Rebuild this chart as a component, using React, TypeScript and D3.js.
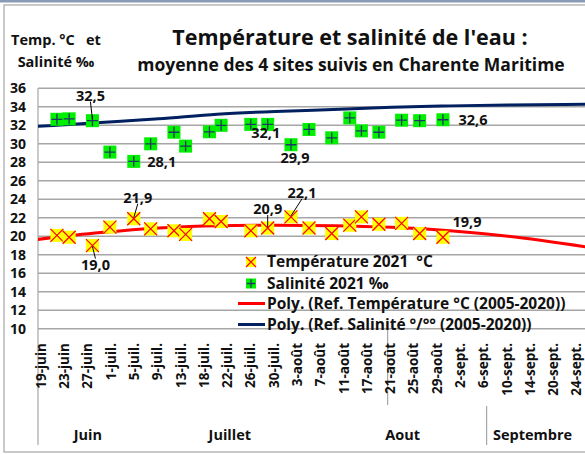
import React from "react";
import * as d3 from "d3";

// x axis: day offset from 19 June, one label every 4 positions
const tickLabels = [
  "19-juin", "23-juin", "27-juin", "1-juil.", "5-juil.", "9-juil.", "13-juil.",
  "18-juil.", "22-juil.", "26-juil.", "30-juil.", "3-août", "7-août", "11-août",
  "17-août", "21-août", "25-août", "29-août", "2-sept.", "6-sept.", "10-sept.",
  "14-sept.", "20-sept.", "24-sept.",
];
const months = ["Juin", "Juillet", "Aout", "Septembre"];
const monthCenters = [7.8, 32.2, 61.9, 84.2];

// sampling days 2021 (position on the axis)
const sampleDays = [
  2.5, 4.6, 8.6, 11.6, 15.7, 18.6, 22.6, 24.6, 28.7, 30.7, 35.8,
  38.7, 42.7, 45.8, 49.7, 52.8, 54.8, 57.8, 61.7, 64.8, 68.8,
];
const temp2021 = [
  20.1, 19.9, 19.0, 21.0, 21.9, 20.8, 20.6, 20.2, 21.9, 21.6, 20.6,
  20.9, 22.1, 20.9, 20.3, 21.2, 22.1, 21.3, 21.4, 20.3, 19.9,
];
const sal2021 = [
  32.65, 32.7, 32.5, 29.1, 28.1, 30.0, 31.25, 29.75, 31.3, 32.0, 32.1,
  32.1, 29.9, 31.55, 30.65, 32.8, 31.4, 31.25, 32.55, 32.5, 32.6,
];

// reference 2005-2020 polynomial trends
const refDays = [-1, 10, 20, 30, 40, 50, 60, 70, 80, 94];
const refTemp = [19.65, 20.4, 20.9, 21.15, 21.2, 21.15, 20.97, 20.6, 20.0, 18.8];
const refSal = [31.88, 32.3, 32.7, 33.2, 33.5, 33.7, 33.95, 34.1, 34.2, 34.28];

const yTicks = d3.range(10, 37, 2);

const W = 585;
const H = 454;
const plot = { left: 38, right: 585, top: 88.3, bottom: 328.8 };
const font = "'Open Sans', 'Noto Sans', sans-serif";

const x = d3.scaleLinear().domain([-0.75, 93.2]).range([plot.left, plot.right]);
const y = d3.scaleLinear().domain([10, 36]).range([plot.bottom, plot.top]);

const fmt = (v: number) => d3.format(".1f")(v).replace(".", ",");

// data labels: which point, offset of label, leader line
const salLabels = [
  { i: 2, dx: -2, dy: -25, leader: true },
  { i: 4, dx: 28, dy: 1, leader: false },
  { i: 11, dx: -2, dy: 9, leader: false },
  { i: 12, dx: 4, dy: 13, leader: false },
  { i: 20, dx: 30, dy: 0, leader: false },
];
const tempLabels = [
  { i: 2, dx: 3, dy: 19, leader: true },
  { i: 4, dx: 4, dy: -21, leader: true },
  { i: 11, dx: 0, dy: -19, leader: true },
  { i: 12, dx: 11, dy: -24, leader: true },
  { i: 20, dx: 24, dy: -15, leader: false },
];

const TempMarker = ({ cx, cy, s = 13 }: { cx: number; cy: number; s?: number }) => (
  <g>
    <rect x={cx - s / 2} y={cy - s / 2} width={s} height={s} fill="#FFFF00" />
    <path
      d={`M${cx - s / 2},${cy - s / 2}L${cx + s / 2},${cy + s / 2}M${cx + s / 2},${cy - s / 2}L${cx - s / 2},${cy + s / 2}`}
      stroke="#FF0000"
      strokeWidth={1.2}
    />
  </g>
);

const SalMarker = ({ cx, cy, s = 13 }: { cx: number; cy: number; s?: number }) => (
  <g>
    <rect x={cx - s / 2} y={cy - s / 2} width={s} height={s} fill="#00F000" />
    <path
      d={`M${cx - s * 0.42},${cy}L${cx + s * 0.42},${cy}M${cx},${cy - s * 0.42}L${cx},${cy + s * 0.42}`}
      stroke="#1F3864"
      strokeWidth={1.3}
    />
  </g>
);

export default function App() {
  const line = d3
    .line<number>()
    .x((_, i) => x(refDays[i]))
    .y((d) => y(d))
    .curve(d3.curveMonotoneX);

  const labelStyle = { fontFamily: font, fontWeight: 700, fontSize: 14.5, fill: "#111" };
  const axisStyle = { fontFamily: font, fontWeight: 700, fontSize: 14, fill: "#111" };

  return (
    <svg
      width={W}
      height={H}
      style={{ position: "absolute", left: 0, top: 0, background: "#fff" }}
    >
      <defs>
        <clipPath id="plotClip">
          <rect x={plot.left} y={plot.top - 10} width={plot.right - plot.left} height={plot.bottom - plot.top + 10} />
        </clipPath>
      </defs>
      <rect x={0} y={0} width={W} height={2.5} fill="#8A9BB5" />
      <rect x={4} y={5} width={W} height={H - 7} fill="none" stroke="#A6A6A6" strokeWidth={1.2} />

      {/* titles */}
      <text x={350} y={45} textAnchor="middle" style={{ fontFamily: font, fontWeight: 700, fontSize: 21.5, fill: "#111" }}>
        Température et salinité de l'eau :
      </text>
      <text x={351} y={71} textAnchor="middle" style={{ fontFamily: font, fontWeight: 700, fontSize: 17.5, fill: "#111" }}>
        moyenne des 4 sites suivis en Charente Maritime
      </text>
      <text x={11} y={45} style={{ fontFamily: font, fontWeight: 700, fontSize: 14.5, fill: "#111" }} xmlSpace="preserve">
        Temp. °C   et
      </text>
      <text x={56} y={67} textAnchor="middle" style={{ fontFamily: font, fontWeight: 700, fontSize: 14.5, fill: "#111" }}>
        Salinité ‰
      </text>

      {/* grid + y axis */}
      {yTicks.map((t) => (
        <g key={t}>
          <line x1={plot.left} x2={plot.right} y1={y(t)} y2={y(t)} stroke="#A6A6A6" strokeWidth={1.5} />
          <text x={26} y={y(t)} dy="0.35em" textAnchor="end" style={axisStyle}>
            {t}
          </text>
        </g>
      ))}
      <line x1={plot.left} x2={plot.left} y1={plot.top} y2={445} stroke="#A6A6A6" strokeWidth={1.2} />
      <line x1={x(59.3)} x2={x(59.3)} y1={330} y2={405} stroke="#A6A6A6" strokeWidth={1.2} />
      <line x1={x(76.3)} x2={x(76.3)} y1={406} y2={445} stroke="#A6A6A6" strokeWidth={1.2} />

      {/* x tick labels */}
      {tickLabels.map((l, i) => (
        <text
          key={l}
          transform={`translate(${x(i * 4) - 1},${343}) rotate(-90)`}
          dy="0.33em"
          textAnchor="end"
          style={{ ...axisStyle, fontSize: 13.5 }}
        >
          {l}
        </text>
      ))}
      {months.map((m, i) => (
        <text
          key={m}
          x={x(monthCenters[i])}
          y={435}
          dy="0.35em"
          textAnchor="middle"
          style={{ ...axisStyle, fontSize: 14.5 }}
        >
          {m}
        </text>
      ))}

      {/* reference trends */}
      <g clipPath="url(#plotClip)">
        <path d={line(refSal) || ""} fill="none" stroke="#002060" strokeWidth={3} />
        <path d={line(refTemp) || ""} fill="none" stroke="#FF0000" strokeWidth={3} />
      </g>

      {/* 2021 points */}
      {sampleDays.map((d, i) => (
        <SalMarker key={"s" + i} cx={x(d)} cy={y(sal2021[i])} />
      ))}
      {sampleDays.map((d, i) => (
        <TempMarker key={"t" + i} cx={x(d)} cy={y(temp2021[i])} />
      ))}

      {/* data labels */}
      {[
        ...salLabels.map((l) => ({ ...l, v: sal2021[l.i] })),
        ...tempLabels.map((l) => ({ ...l, v: temp2021[l.i] })),
      ].map((l, k) => {
        const px = x(sampleDays[l.i]);
        const py = y(l.v);
        const lx = px + l.dx;
        const ly = py + l.dy;
        const edge = l.dy < 0 ? ly + 6 : ly - 6;
        return (
          <g key={"l" + k}>
            {l.leader && (
              <line x1={lx} y1={edge} x2={px} y2={py + (l.dy < 0 ? -1 : 1)} stroke="#000" strokeWidth={1} />
            )}
            <text x={lx} y={ly} dy="0.35em" textAnchor="middle" style={labelStyle}>
              {fmt(l.v)}
            </text>
          </g>
        );
      })}

      {/* legend */}
      <g style={{ fontFamily: font, fontWeight: 700, fontSize: 15.5, fill: "#111" }}>
        <TempMarker cx={251} cy={262} s={10} />
        <text x={267} y={262} dy="0.35em" xmlSpace="preserve">Température 2021  °C</text>
        <SalMarker cx={251} cy={283.5} s={10} />
        <text x={267} y={283.5} dy="0.35em">Salinité 2021 ‰</text>
        <line x1={238} x2={265} y1={303.5} y2={303.5} stroke="#FF0000" strokeWidth={3} />
        <text x={267} y={303.5} dy="0.35em">Poly. (Ref. Température °C (2005-2020))</text>
        <line x1={238} x2={265} y1={324.5} y2={324.5} stroke="#002060" strokeWidth={3} />
        <text x={267} y={324.5} dy="0.35em">Poly. (Ref. Salinité °/°° (2005-2020))</text>
      </g>
    </svg>
  );
}
